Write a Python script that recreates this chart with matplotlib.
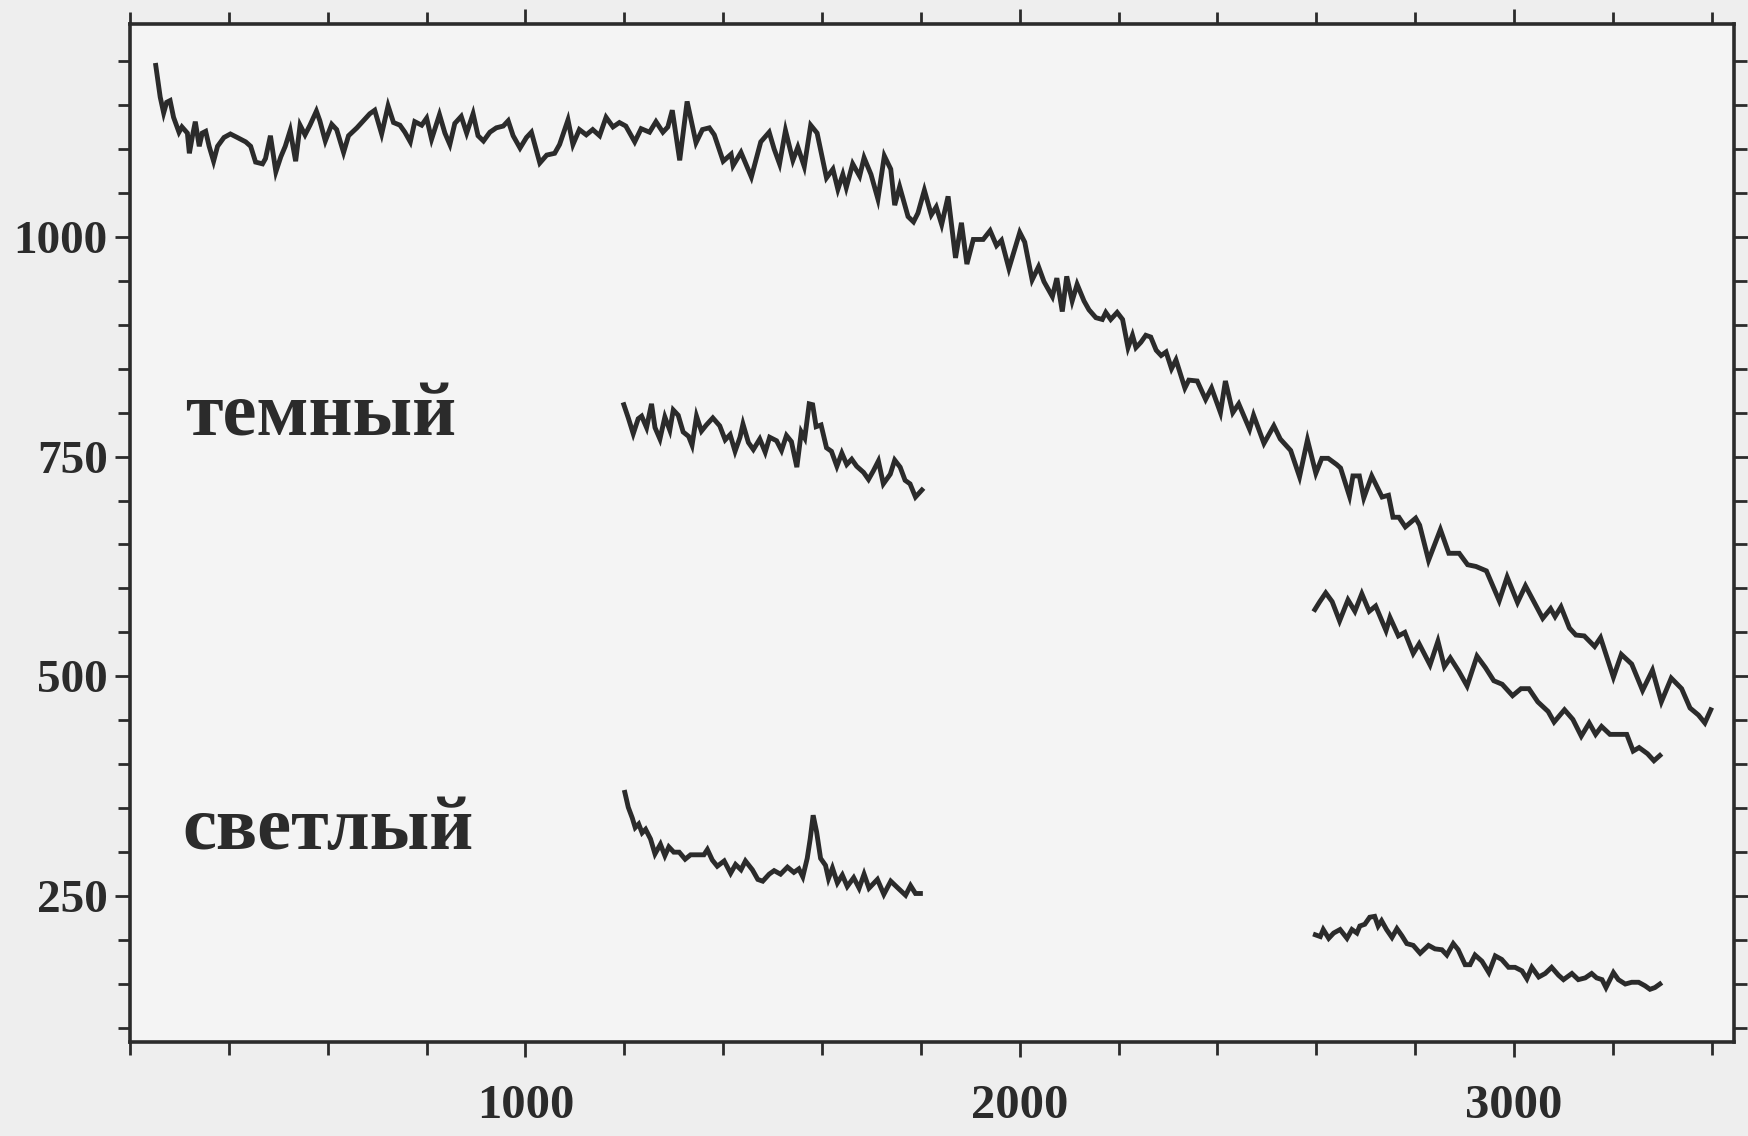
import matplotlib
matplotlib.use("Agg")
import matplotlib.pyplot as plt
from matplotlib.ticker import MultipleLocator, FixedLocator

# ---------------- data ----------------
# long curve (upper trace)
main_x = [
    252, 261, 268, 274, 281, 288, 299, 305, 316, 320,
    326, 332, 340, 346, 353, 360, 369, 377, 390, 403,
    417, 434, 444, 454, 468, 474, 484, 495, 505, 514,
    524, 535, 544, 554, 564, 577, 584, 595, 608, 618,
    632, 642, 659, 672, 685, 695, 709, 722, 733, 746,
    756, 767, 776, 790, 800, 810, 826, 837, 847, 857,
    870, 881, 894, 904, 915, 928, 941, 955, 965, 975,
    989, 1002, 1012, 1029, 1043, 1059, 1069, 1086, 1096, 1109,
    1123, 1136, 1150, 1163, 1177, 1190, 1203,
    1221, 1234, 1251, 1264, 1278, 1288, 1297, 1312, 1327, 1345,
    1358, 1372, 1382, 1400, 1416, 1420, 1436, 1457, 1467, 1476,
    1493, 1503, 1514, 1526, 1541, 1551, 1564, 1577, 1590, 1609,
    1622, 1632, 1642, 1649, 1662, 1676, 1685, 1699, 1713, 1726,
    1739, 1747, 1757, 1774, 1785, 1794, 1807, 1821, 1831, 1842,
    1855, 1870, 1882, 1893, 1906, 1926, 1940, 1953, 1963, 1978,
    2000, 2010, 2025, 2038, 2049, 2066, 2075, 2086, 2095, 2106,
    2116, 2130, 2140, 2154,
    2167, 2174, 2184, 2197, 2208, 2219, 2228, 2235, 2245, 2255,
    2265, 2276, 2286, 2296, 2307, 2316,
    2334, 2342, 2359, 2376, 2388, 2406, 2416, 2431, 2443, 2465,
    2473, 2494, 2514, 2527, 2548, 2566, 2582, 2599, 2611, 2624,
    2641, 2649, 2667, 2674, 2687, 2696, 2712, 2733, 2746, 2755,
    2767, 2780, 2801, 2809, 2827, 2851, 2868, 2889, 2906, 2923,
    2944, 2970, 2986, 3007, 3023, 3058, 3074, 3083, 3095, 3112,
    3125, 3142, 3163, 3175, 3201, 3217, 3238, 3260, 3280, 3298,
    3318, 3339, 3356, 3373, 3386, 3398,
]
main_y = [
    1195, 1159, 1141, 1153, 1155, 1136, 1119, 1125, 1118, 1095,
    1114, 1131, 1103, 1118, 1120, 1103, 1086, 1103, 1113, 1117,
    1113, 1108, 1103, 1085, 1083, 1089, 1115, 1074, 1091, 1103,
    1121, 1086, 1127, 1116, 1127, 1143, 1132, 1109, 1128, 1122,
    1096, 1115, 1124, 1132, 1140, 1144, 1117, 1149, 1130, 1127,
    1119, 1108, 1131, 1127, 1135, 1111, 1139, 1118, 1105, 1129,
    1137, 1118, 1140, 1115, 1109, 1119, 1124, 1126, 1132, 1115,
    1101, 1113, 1119, 1084, 1093, 1095, 1105, 1133, 1105, 1122,
    1116, 1122, 1115, 1136, 1125, 1130, 1126,
    1108, 1123, 1119, 1131, 1119, 1125, 1144, 1087, 1154, 1107,
    1122, 1124, 1116, 1086, 1094, 1081, 1096, 1068, 1089, 1108,
    1119, 1100, 1083, 1121, 1087, 1102, 1080, 1127, 1118, 1067,
    1077, 1054, 1071, 1056, 1083, 1069, 1090, 1071, 1043, 1092,
    1077, 1036, 1057, 1023, 1017, 1027, 1053, 1025, 1034, 1014,
    1046, 976, 1016, 969, 997, 997, 1007, 990, 996, 964,
    1005, 994, 951, 966, 949, 932, 953, 915, 955, 927,
    946, 927, 917, 908,
    906, 914, 906, 914, 906, 874, 888, 874, 880, 888,
    886, 871, 865, 869, 850, 860,
    828, 837, 836, 815, 828, 800, 836, 800, 810, 781,
    797, 765, 785, 770, 757, 727, 769, 731, 748, 748,
    741, 737, 705, 728, 728, 703, 728, 704, 706, 681,
    681, 670, 680, 672, 632, 667, 640, 640, 627, 625,
    620, 586, 613, 584, 603, 566, 577, 568, 579, 555,
    547, 546, 534, 544, 499, 525, 514, 484, 507, 471,
    498, 486, 464, 456, 447, 462,
]

# "темный" short range
dark1_x = [1199, 1208, 1218, 1228, 1235, 1245, 1255, 1262, 1272, 1282,
           1292, 1299, 1309, 1319, 1330, 1337, 1346, 1356, 1366, 1379,
           1393, 1404, 1414, 1424, 1434, 1440, 1451, 1461, 1474, 1485,
           1494, 1508, 1518, 1528, 1538, 1549, 1558, 1565, 1574, 1581,
           1588, 1598, 1609, 1619, 1630, 1640, 1650, 1660, 1670, 1684,
           1694, 1704, 1714, 1724, 1738, 1747, 1758, 1768, 1778, 1789, 1802]
dark1_y = [809, 794, 776, 793, 796, 783, 810, 783, 770, 795,
           780, 803, 797, 778, 773, 763, 796, 779, 786, 794,
           785, 769, 775, 756, 772, 787, 766, 758, 770, 755,
           772, 768, 757, 774, 767, 738, 778, 771, 810, 809,
           784, 786, 760, 756, 739, 754, 741, 747, 739, 732,
           724, 734, 745, 719, 730, 746, 738, 723, 719, 704, 712]

# "темный" long range
dark2_x = [2597, 2607, 2619, 2632, 2647, 2664, 2678, 2692, 2707, 2720,
           2741, 2749, 2766, 2779, 2796, 2808, 2830, 2846, 2859, 2871,
           2888, 2905, 2925, 2942, 2959, 2976, 2997, 3014, 3030, 3048,
           3069, 3081, 3102, 3119, 3136, 3152, 3165, 3177, 3194, 3215,
           3228, 3241, 3253, 3270, 3283, 3295]
dark2_y = [576, 585, 595, 585, 563, 587, 574, 594, 574, 580,
           552, 567, 546, 550, 526, 537, 513, 540, 511, 521,
           506, 489, 523, 510, 495, 491, 478, 486, 486, 471,
           460, 448, 462, 451, 432, 447, 434, 443, 434, 434,
           434, 415, 419, 412, 404, 410]

# "светлый" short range
light1_x = [1201, 1208, 1216, 1222, 1229, 1236, 1243, 1253, 1262, 1273,
            1282, 1290, 1300, 1311, 1323, 1334, 1348, 1361, 1368, 1378,
            1388, 1402, 1415, 1425, 1436, 1445, 1459, 1470, 1480, 1493,
            1503, 1516, 1530, 1543, 1553, 1561, 1570, 1576, 1582, 1589,
            1597, 1607, 1613, 1621, 1631, 1641, 1651, 1664, 1675, 1685,
            1695, 1712, 1725, 1739, 1752, 1769, 1779, 1789, 1799]
light1_y = [368, 351, 339, 328, 332, 322, 326, 315, 298, 309,
            296, 306, 300, 300, 292, 297, 297, 297, 303, 291,
            284, 290, 276, 286, 280, 290, 280, 269, 267, 275,
            279, 275, 283, 277, 281, 272, 293, 315, 342, 323,
            293, 285, 270, 282, 265, 274, 261, 271, 259, 275,
            259, 269, 252, 267, 260, 251, 262, 253, 253]

# "светлый" long range
light2_x = [2598, 2608, 2614, 2625, 2635, 2648, 2662, 2672, 2682, 2688,
            2698, 2708, 2718, 2725, 2732, 2742, 2753, 2763, 2773, 2783,
            2796, 2810, 2827, 2840, 2854, 2864, 2877, 2887, 2901, 2911,
            2921, 2935, 2949, 2962, 2975, 2989, 3002, 3016, 3026, 3036,
            3050, 3063, 3076, 3090, 3100, 3117, 3130, 3144, 3157, 3167,
            3178, 3186, 3201, 3211, 3225, 3238, 3252, 3265, 3275, 3285, 3295]
light2_y = [206, 204, 212, 202, 208, 212, 202, 212, 208, 216,
            218, 226, 227, 216, 222, 212, 203, 213, 205, 196,
            194, 185, 194, 190, 189, 183, 196, 189, 172, 172,
            183, 176, 163, 182, 178, 169, 169, 165, 156, 169,
            158, 162, 169, 160, 155, 162, 155, 157, 162, 157,
            155, 146, 163, 155, 150, 152, 152, 148, 144, 146, 150]

x_major = [1000, 2000, 3000]
y_major = [250, 500, 750, 1000]
labels = ["темный", "светлый"]
label_pos_x = [312, 306]
label_pos_y = [774, 304]

# ---------------- drawing ----------------
INK = "#2b2b2b"
FONT = ["Liberation Serif", "DejaVu Serif"]

fig = plt.figure(figsize=(17.48, 11.36), dpi=100, facecolor="#eeeeee")
ax = fig.add_axes([0.0744, 0.0827, 0.9176, 0.8961], facecolor="#f4f4f4")

for xs, ys in [(main_x, main_y), (dark1_x, dark1_y), (dark2_x, dark2_y),
               (light1_x, light1_y), (light2_x, light2_y)]:
    ax.plot(xs, ys, color=INK, lw=3.5, solid_joinstyle="miter")

ax.set_xlim(200, 3445)
ax.set_ylim(84, 1242)

ax.xaxis.set_major_locator(FixedLocator(x_major))
ax.xaxis.set_minor_locator(MultipleLocator(200))
ax.yaxis.set_major_locator(FixedLocator(y_major))
ax.yaxis.set_minor_locator(MultipleLocator(50))

ax.tick_params(which="both", direction="out", top=True, right=True,
               width=2, color=INK)
ax.tick_params(which="major", length=11)
ax.tick_params(which="minor", length=9)
ax.tick_params(axis="x", pad=19, labelsize=35, labelcolor=INK)
ax.tick_params(axis="y", pad=5, labelsize=34, labelcolor=INK)
for lab in ax.get_xticklabels() + ax.get_yticklabels():
    lab.set_family(FONT)
    lab.set_fontweight("bold")

for sp in ax.spines.values():
    sp.set_linewidth(2.6)
    sp.set_color(INK)

for t, tx, ty in zip(labels, label_pos_x, label_pos_y):
    ax.text(tx, ty, t, fontsize=55, fontweight="bold", family=FONT,
            color=INK, ha="left", va="baseline")

fig.savefig("out.png", dpi=100, facecolor=fig.get_facecolor())
